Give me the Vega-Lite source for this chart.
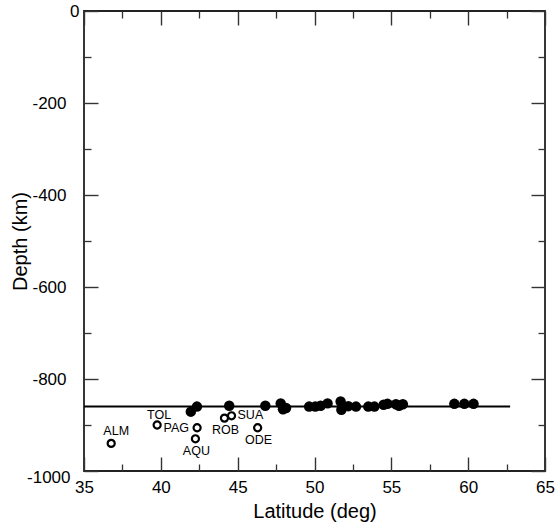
{
  "$schema": "https://vega.github.io/schema/vega-lite/v6.json",
  "width": 461,
  "height": 460,
  "autosize": {"type": "none"},
  "padding": {"left": 84, "top": 11, "right": 14, "bottom": 55},
  "background": "white",
  "config": {
    "view": {"stroke": "#222222", "strokeWidth": 1.8},
    "font": "Liberation Sans",
    "axis": {"domain": false, "grid": false, "tickColor": "#333333", "labelColor": "black", "titleColor": "black", "labelFont": "Liberation Sans", "titleFont": "Liberation Sans", "titleFontWeight": "normal"}
  },
  "datasets": {
    "line": [{"lat": 35, "depth": -860}, {"lat": 62.73, "depth": -860}],
    "filled": [
      {"lat": 41.95, "depth": -871}, {"lat": 42.35, "depth": -860}, {"lat": 44.45, "depth": -858},
      {"lat": 46.8, "depth": -858}, {"lat": 47.8, "depth": -853}, {"lat": 47.95, "depth": -866},
      {"lat": 48.15, "depth": -863}, {"lat": 49.65, "depth": -860}, {"lat": 50.05, "depth": -860},
      {"lat": 50.4, "depth": -858}, {"lat": 50.85, "depth": -853}, {"lat": 51.7, "depth": -849},
      {"lat": 51.75, "depth": -867}, {"lat": 52.2, "depth": -859}, {"lat": 52.7, "depth": -860},
      {"lat": 53.5, "depth": -860}, {"lat": 53.9, "depth": -860}, {"lat": 54.5, "depth": -856},
      {"lat": 54.75, "depth": -854}, {"lat": 55.3, "depth": -855}, {"lat": 55.5, "depth": -858},
      {"lat": 55.75, "depth": -855}, {"lat": 59.1, "depth": -854}, {"lat": 59.75, "depth": -854},
      {"lat": 60.35, "depth": -854}
    ],
    "stations": [
      {"station": "ALM", "lat": 36.77, "depth": -940},
      {"station": "TOL", "lat": 39.76, "depth": -900},
      {"station": "PAG", "lat": 42.36, "depth": -906},
      {"station": "AQU", "lat": 42.25, "depth": -930},
      {"station": "ROB", "lat": 44.14, "depth": -885},
      {"station": "SUA", "lat": 44.6, "depth": -880},
      {"station": "ODE", "lat": 46.3, "depth": -906}
    ]
  },
  "resolve": {"axis": {"x": "independent", "y": "independent"}},
  "layer": [
    {
      "data": {"name": "line"},
      "mark": {"type": "line", "color": "black", "strokeWidth": 2},
      "encoding": {
        "x": {"field": "lat", "type": "quantitative", "scale": {"domain": [35, 65], "nice": false, "zero": false},
          "axis": {"orient": "bottom", "title": "Latitude (deg)", "values": [35, 40, 45, 50, 55, 60, 65], "ticks": false, "labelPadding": 8, "labelFontSize": 17, "titleFontSize": 20, "titlePadding": 6, "labelFlush": false, "labelExpr": "datum.value + ''"}},
        "y": {"field": "depth", "type": "quantitative", "scale": {"domain": [-1000, 0], "nice": false, "zero": false},
          "axis": {"orient": "left", "title": "Depth (km)", "values": [-1000, -800, -600, -400, -200, 0], "ticks": false,
            "labelPadding": {"condition": [{"test": "datum.value == 0", "value": 5}, {"test": "datum.value == -1000", "value": 14}], "value": 18},
            "labelOffset": {"condition": {"test": "datum.value == -1000", "value": 6}, "value": 0},
            "labelFontSize": 17, "titleFontSize": 20, "titleX": -64, "titleBaseline": "middle", "labelFlush": false, "labelExpr": "datum.value + ''"}}
      }
    },
    {
      "data": {"name": "filled"},
      "mark": {"type": "circle", "color": "black", "opacity": 1, "size": 110},
      "encoding": {
        "x": {"field": "lat", "type": "quantitative", "axis": {"orient": "top", "offset": -460, "title": null, "labels": false, "values": [35, 40, 45, 50, 55, 60, 65], "tickSize": 14, "tickWidth": 1.4}},
        "y": {"field": "depth", "type": "quantitative", "axis": {"orient": "right", "offset": -461, "title": null, "labels": false, "values": [-1000, -800, -600, -400, -200, 0], "tickSize": 14, "tickWidth": 1.4}}
      }
    },
    {
      "data": {"name": "stations"},
      "mark": {"type": "point", "shape": "circle", "filled": false, "color": "black", "strokeWidth": 2.2, "size": 50, "opacity": 1},
      "encoding": {
        "x": {"field": "lat", "type": "quantitative", "axis": {"orient": "top", "offset": -460, "title": null, "labels": false, "values": [37.5, 42.5, 47.5, 52.5, 57.5, 62.5], "tickSize": 7, "tickWidth": 1.3}},
        "y": {"field": "depth", "type": "quantitative", "axis": {"orient": "right", "offset": -461, "title": null, "labels": false, "values": [-900, -700, -500, -300, -100], "tickSize": 7, "tickWidth": 1.3}}
      }
    },
    {
      "data": {"name": "stations"},
      "transform": [{"filter": {"field": "station", "oneOf": ["ALM"]}}],
      "mark": {"type": "text", "fontSize": 12.5, "font": "Liberation Sans", "color": "black", "dx": 5, "dy": -12},
      "encoding": {
        "x": {"field": "lat", "type": "quantitative", "axis": {"orient": "bottom", "offset": -460, "title": null, "labels": false, "values": [35, 40, 45, 50, 55, 60, 65], "tickSize": 14, "tickWidth": 1.4}},
        "y": {"field": "depth", "type": "quantitative", "axis": {"orient": "left", "offset": -461, "title": null, "labels": false, "values": [-1000, -800, -600, -400, -200, 0], "tickSize": 14, "tickWidth": 1.4}},
        "text": {"field": "station"}
      }
    },
    {
      "data": {"name": "stations"},
      "transform": [{"filter": {"field": "station", "oneOf": ["TOL"]}}],
      "mark": {"type": "text", "fontSize": 12.5, "font": "Liberation Sans", "color": "black", "dx": 2, "dy": -10},
      "encoding": {
        "x": {"field": "lat", "type": "quantitative", "axis": {"orient": "bottom", "offset": -460, "title": null, "labels": false, "values": [37.5, 42.5, 47.5, 52.5, 57.5, 62.5], "tickSize": 7, "tickWidth": 1.3}},
        "y": {"field": "depth", "type": "quantitative", "axis": {"orient": "left", "offset": -461, "title": null, "labels": false, "values": [-900, -700, -500, -300, -100], "tickSize": 7, "tickWidth": 1.3}},
        "text": {"field": "station"}
      }
    },
    {
      "data": {"name": "stations"},
      "transform": [{"filter": {"field": "station", "oneOf": ["PAG"]}}],
      "mark": {"type": "text", "fontSize": 12.5, "font": "Liberation Sans", "color": "black", "align": "right", "dx": -8, "dy": 0},
      "encoding": {
        "x": {"field": "lat", "type": "quantitative", "axis": null},
        "y": {"field": "depth", "type": "quantitative", "axis": null},
        "text": {"field": "station"}
      }
    },
    {
      "data": {"name": "stations"},
      "transform": [{"filter": {"field": "station", "oneOf": ["AQU", "ROB", "ODE"]}}],
      "mark": {"type": "text", "fontSize": 12.5, "font": "Liberation Sans", "color": "black", "dx": 1, "dy": 12},
      "encoding": {
        "x": {"field": "lat", "type": "quantitative", "axis": null},
        "y": {"field": "depth", "type": "quantitative", "axis": null},
        "text": {"field": "station"}
      }
    },
    {
      "data": {"name": "stations"},
      "transform": [{"filter": {"field": "station", "oneOf": ["SUA"]}}],
      "mark": {"type": "text", "fontSize": 12.5, "font": "Liberation Sans", "color": "black", "align": "left", "dx": 6, "dy": -1},
      "encoding": {
        "x": {"field": "lat", "type": "quantitative", "axis": null},
        "y": {"field": "depth", "type": "quantitative", "axis": null},
        "text": {"field": "station"}
      }
    }
  ]
}
